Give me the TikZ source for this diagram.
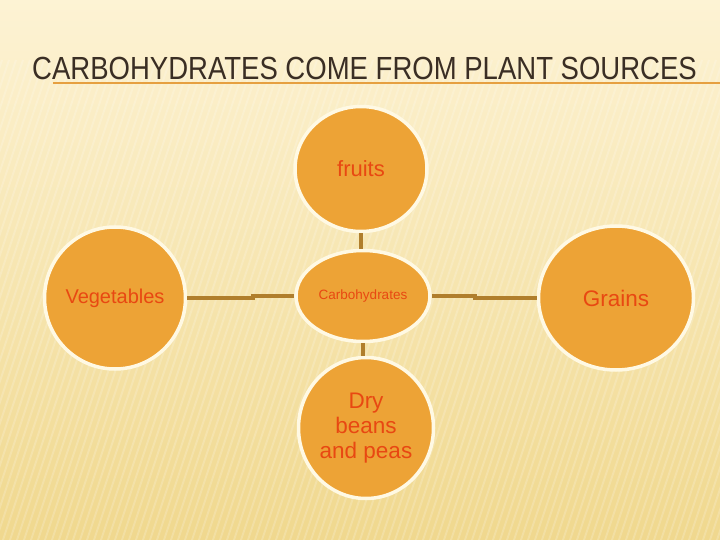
\documentclass[tikz,border=0pt]{standalone}
\usepackage{fontspec}
\setmainfont{Liberation Sans}
\newfontfamily\narrowfont[FakeStretch=0.86]{Liberation Sans}
\usetikzlibrary{shapes.geometric}
\definecolor{cream}{RGB}{253,243,212}
\definecolor{sand}{RGB}{240,216,142}
\definecolor{bubble}{RGB}{237,163,54}
\definecolor{rim}{RGB}{255,249,228}
\definecolor{ink}{RGB}{232,72,18}
\definecolor{stem}{RGB}{176,126,44}
\definecolor{head}{RGB}{58,46,36}
\definecolor{rule}{RGB}{230,160,64}
\begin{document}
\begin{tikzpicture}[x=1pt,y=-1pt,
  bubble/.style={ellipse,draw=rim,line width=3.5pt,fill=bubble,inner sep=0pt,
    text=ink,align=center,font=\fontsize{#1}{25}\selectfont},
  link/.style={draw=stem,line width=3.6pt}]
\useasboundingbox (0,0) rectangle (720,540);
% background
\shade[top color=cream,bottom color=sand] (0,0) rectangle (720,540);
\begin{scope}
\clip (0,0) rectangle (720,540);
\foreach \x in {-200,-193,...,760}
\draw[white,opacity=.18,line width=2pt] (\x,540) -- (\x+160,60);
\end{scope}
% title
\node[anchor=base west,inner sep=0pt,text=head,font=\narrowfont\fontsize{32}{36}\selectfont] (title) at (32,80) {CARBOHYDRATES COME FROM PLANT SOURCES};
\draw[rule,line width=2pt] (53,83) -- (720,83);
% nodes
\node[bubble=13.5,minimum width=134,minimum height=91] (carb) at (363,296) {Carbohydrates};
\node[bubble=22,minimum width=132,minimum height=125] (fruit) at (361,169) {fruits};
\node[bubble=20,minimum width=141,minimum height=142] (veg) at (115,298) {Vegetables};
\node[bubble=22.5,minimum width=155,minimum height=144] (grain) at (616,298) {Grains};
\node[bubble=22.5,minimum width=135,minimum height=141] (bean) at (366,428) {Dry\\beans\\and peas};
% links
\coordinate (lstep) at (253,298);
\coordinate (rstep) at (475,298);
\draw[link] (veg.east) -- (lstep) |- (carb.west);
\draw[link] (grain.west) -- (rstep) |- (carb.east);
\draw[link] (fruit.south) -- (fruit.south |- carb.north);
\draw[link] (carb.south) -- (carb.south |- bean.north);
\end{tikzpicture}
\end{document}
